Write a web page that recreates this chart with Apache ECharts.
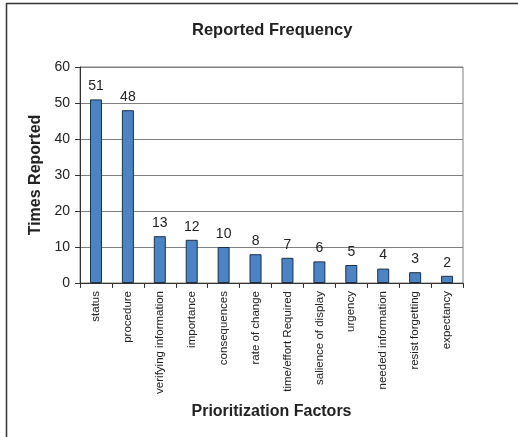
<!DOCTYPE html>
<html>
<head>
<meta charset="utf-8">
<script src="https://cdn.jsdelivr.net/npm/echarts@6/dist/echarts.min.js"></script>
<style>html,body{margin:0;padding:0;background:#fff;}#c{width:518px;height:437px;}</style>
</head>
<body>
<div id="c"></div>
<script>
const categories = ["status","procedure","verifying information","importance","consequences","rate of change","time/effort Required","salience of display","urgency","needed information","resist forgetting","expectancy"];
const values = [51,48,13,12,10,8,7,6,5,4,3,2];
const yTicks = [0,10,20,30,40,50,60];

const chart = echarts.init(document.getElementById('c'));
const F = '"Liberation Sans", Arial, sans-serif';
chart.setOption({
  animation: false,
  backgroundColor: '#fff',
  textStyle: {fontFamily: F},
  title: {
    text: 'Reported Frequency', left: 187, top: 17,
    textStyle: {fontSize: 16.5, fontWeight: 'bold', color: '#222', fontFamily: F}
  },
  graphic: [
    {type: 'line', shape: {x1: 6, y1: 3.5, x2: 518, y2: 3.5}, style: {stroke: '#333', lineWidth: 1.5}},
    {type: 'line', shape: {x1: 6.5, y1: 3, x2: 6.5, y2: 437}, style: {stroke: '#333', lineWidth: 1.5}}
  ],
  grid: {left: 80, right: 55, top: 67, bottom: 154, show: true, borderColor: '#808080', borderWidth: 1},
  xAxis: {
    type: 'category', data: categories,
    name: 'Prioritization Factors', nameLocation: 'middle', nameGap: 121,
    nameTextStyle: {fontSize: 16, fontWeight: 'bold', color: '#222', fontFamily: F},
    axisLine: {lineStyle: {color: '#333', width: 1}},
    axisTick: {show: true, length: 5, lineStyle: {color: '#333'}},
    axisLabel: {rotate: 90, fontSize: 11.5, color: '#222', margin: 8, interval: 0, fontFamily: F}
  },
  yAxis: {
    type: 'value', min: yTicks[0], max: yTicks[yTicks.length - 1], interval: 10,
    name: 'Times Reported', nameLocation: 'middle', nameGap: 29,
    nameTextStyle: {fontSize: 16, fontWeight: 'bold', color: '#222', fontFamily: F},
    axisLine: {show: true, lineStyle: {color: '#333', width: 1}},
    axisTick: {show: true, length: 5, lineStyle: {color: '#333'}},
    axisLabel: {fontSize: 14, color: '#222', margin: 10, fontFamily: F},
    splitLine: {show: true, lineStyle: {color: '#808080', width: 1}}
  },
  series: [{
    type: 'bar', data: values, barWidth: 12,
    itemStyle: {color: '#4a84c4', borderColor: '#1f2f45', borderWidth: 1},
    label: {show: true, position: 'top', distance: 6, fontSize: 14, color: '#222', fontFamily: F}
  }]
});
</script>
</body>
</html>
